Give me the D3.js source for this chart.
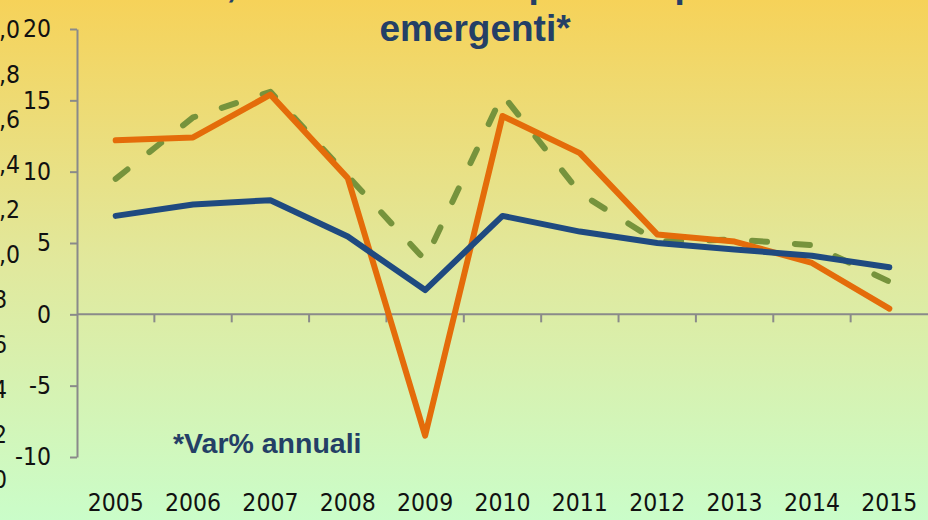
<!DOCTYPE html>
<html lang="it">
<head>
<meta charset="UTF-8">
<title>emergenti</title>
<style>
  body { margin: 0; }
  svg { display: block; }
  .num { font-family: "DejaVu Sans Condensed", "DejaVu Sans", sans-serif; font-stretch: condensed; font-size: 24.5px; fill: #111; }
  .bold { font-family: "Liberation Sans", Arial, sans-serif; font-weight: bold; fill: #243f66; }
</style>
<script src="https://cdn.jsdelivr.net/npm/d3@7"></script>
</head>
<body>
<svg id="chart"></svg>
<script>
// values (annual % change)
const years = ["2005","2006","2007","2008","2009","2010","2011","2012","2013","2014","2015"];
const serieBlu = [6.9, 7.7, 8.0, 5.45, 1.7, 6.9, 5.8, 5.0, 4.55, 4.1, 3.3];
const serieArancio = [12.2, 12.4, 15.4, 9.55, -8.5, 13.9, 11.3, 5.6, 5.1, 3.6, 0.4];
const serieVerde = [9.5, 13.8, 15.6, 9.7, 3.8, 15.4, 8.5, 5.1, 5.25, 4.85, 2.3];
const yTicks = [-10, -5, 0, 5, 10, 15, 20];
// cut-off secondary axis at the far left
const asseSx = [2.0, 1.8, 1.6, 1.4, 1.2, 1.0, 0.8, 0.6, 0.4, 0.2, 0.0];

const width = 928, height = 520;
const svg = d3.select("#chart").attr("width", width).attr("height", height);

// background gradient
const grad = svg.append("defs").append("linearGradient")
    .attr("id", "bg").attr("x1", 0).attr("y1", 0).attr("x2", 0).attr("y2", 1);
grad.append("stop").attr("offset", "0%").attr("stop-color", "#f6d259");
grad.append("stop").attr("offset", "50%").attr("stop-color", "#e1e89c");
grad.append("stop").attr("offset", "100%").attr("stop-color", "#cafdc9");
svg.append("rect").attr("width", width).attr("height", height).attr("fill", "url(#bg)");

const x = d3.scaleBand().domain(years).range([77, 928]);
const xc = d => x(d) + x.bandwidth() / 2;
const y = d3.scaleLinear().domain([-10, 20]).range([457, 29]);

// left cut-off labels
const ySx = d3.scaleLinear().domain([2.0, 0.0]).range([29, 479]);
svg.append("g").selectAll("text")
    .data(asseSx).enter().append("text")
    .attr("class", "num")
    .attr("text-anchor", "end")
    .attr("x", d => d >= 1 ? 20 : 7)
    .attr("y", d => ySx(d))
    .attr("dy", "0.36em")
    .text(d => d3.format(".1f")(d).replace(".", ","));

// title (first line cut off at the top)
svg.append("text").attr("class", "bold")
    .attr("x", 475).attr("y", -3).attr("text-anchor", "middle")
    .style("font-size", "37px")
    .text("Pil, commercio e import dei paesi");
svg.append("text").attr("class", "bold")
    .attr("x", 475).attr("y", 41).attr("text-anchor", "middle")
    .style("font-size", "37px")
    .text("emergenti*");

// y axis
const yAxis = svg.append("g").attr("transform", "translate(77,0)")
    .call(d3.axisLeft(y).tickValues(yTicks).tickFormat(d => String(d))
        .tickSize(7).tickSizeOuter(0).tickPadding(19));
yAxis.select(".domain").attr("stroke", "#8a8a8a").attr("stroke-width", 2);
yAxis.selectAll(".tick line").attr("stroke", "#8a8a8a").attr("stroke-width", 2);
yAxis.selectAll(".tick text").attr("class", "num").attr("fill", "#111");

// x axis line at zero with ticks between categories
const zero = y(0);
svg.append("line")
    .attr("x1", 77).attr("x2", 928).attr("y1", zero).attr("y2", zero)
    .attr("stroke", "#8a8a8a").attr("stroke-width", 2);
svg.append("g").selectAll("line")
    .data(years.slice(1)).enter().append("line")
    .attr("x1", d => x(d)).attr("x2", d => x(d))
    .attr("y1", zero).attr("y2", zero + 8)
    .attr("stroke", "#8a8a8a").attr("stroke-width", 2);

// year labels at the bottom
svg.append("g").selectAll("text")
    .data(years).enter().append("text")
    .attr("class", "num")
    .attr("x", d => xc(d)).attr("y", 511)
    .attr("text-anchor", "middle")
    .text(d => d);

// lines
const line = d3.line().x((d, i) => xc(years[i])).y(d => y(d));
svg.append("path").datum(serieVerde)
    .attr("d", line).attr("fill", "none")
    .attr("stroke", "#76933c").attr("stroke-width", 6)
    .attr("stroke-dasharray", "15,28").attr("stroke-linecap", "round").attr("stroke-linejoin", "round");
svg.append("path").datum(serieArancio)
    .attr("d", line).attr("fill", "none")
    .attr("stroke", "#e46c0a").attr("stroke-width", 6)
    .attr("stroke-linecap", "round").attr("stroke-linejoin", "round");
svg.append("path").datum(serieBlu)
    .attr("d", line).attr("fill", "none")
    .attr("stroke", "#1f4a80").attr("stroke-width", 6)
    .attr("stroke-linecap", "round").attr("stroke-linejoin", "round");

// note
svg.append("text").attr("class", "bold")
    .attr("x", 173).attr("y", 453)
    .style("font-size", "28.5px")
    .text("*Var% annuali");
</script>
</body>
</html>
